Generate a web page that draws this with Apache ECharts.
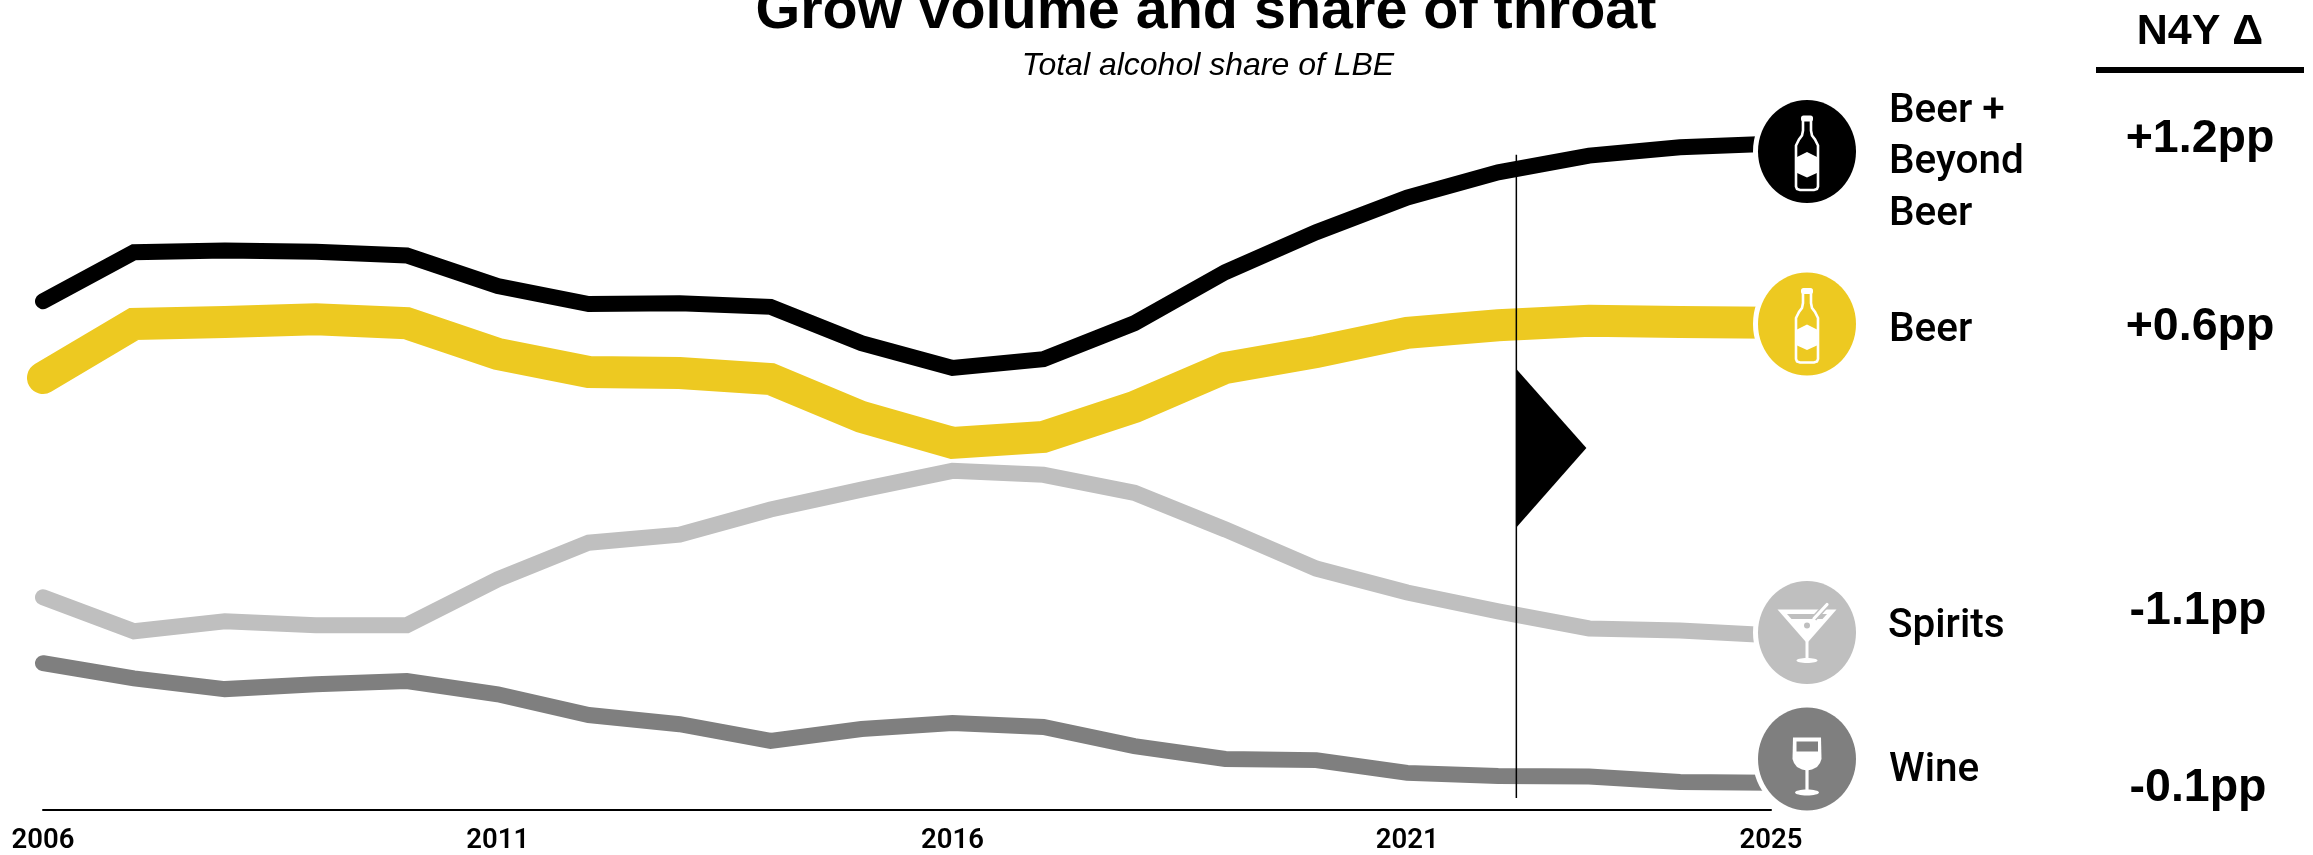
<!DOCTYPE html>
<html>
<head>
<meta charset="utf-8">
<style>html,body{margin:0;padding:0;background:#fff}#chart{width:2313px;height:855px}</style>
<script src="https://cdn.jsdelivr.net/npm/echarts@6/dist/echarts.min.js"></script>
</head>
<body>
<div id="chart"></div>
<script>
// Share of total alcohol within LBE, by segment (percentage points).
const years = [2006,2007,2008,2009,2010,2011,2012,2013,2014,2015,2016,2017,2018,2019,2020,2021,2022,2023,2024,2025];
const yearTicks = [2006,2011,2016,2021,2025];
const beerPlus = [12.75,13.98,14.02,13.99,13.90,13.13,12.68,12.70,12.61,11.70,11.08,11.30,12.20,13.48,14.48,15.35,15.98,16.40,16.61,16.70];
const beer = [10.83,12.18,12.23,12.30,12.20,11.43,10.98,10.95,10.80,9.85,9.20,9.35,10.10,11.08,11.48,11.96,12.15,12.26,12.23,12.21];
const spirits = [5.33,4.48,4.73,4.63,4.63,5.78,6.70,6.90,7.53,8.03,8.50,8.40,7.95,7.03,6.05,5.45,4.98,4.55,4.50,4.38];
const wine = [3.68,3.30,3.03,3.15,3.23,2.90,2.38,2.15,1.73,2.03,2.18,2.08,1.60,1.28,1.25,0.93,0.85,0.84,0.70,0.68];
const forecastStart = [2022.2];
const segmentNames = ['Beer + Beyond Beer','Beer','Spirits','Wine'];
const deltaLabels = ['+1.2pp','+0.6pp','-1.1pp','-0.1pp'];

const BLACK = '#000000', YELLOW = '#EDC921', LIGHT = '#BFBFBF', GREY = '#7F7F7F';
const TOP_Z = 100;
const pair = arr => arr.map((v, i) => [years[i], v]);
const lineSeries = (name, arr, color, width) => ({
  name, type: 'line', data: pair(arr), symbol: 'none', smooth: false, clip: false,
  lineStyle: { color, width, cap: 'round', join: 'miter' }, silent: true
});

// Round badge with its white ring; the pictogram children share the same centre.
function badge(cx, cy, color, children) {
  return {
    type: 'group', x: cx, y: cy,
    children: [
      { type: 'ellipse', z: TOP_Z, shape: { cx: 0, cy: 0, rx: 49, ry: 51.5 }, style: { fill: color, stroke: '#fff', lineWidth: 10 } },
      { type: 'ellipse', z: TOP_Z + 1, shape: { cx: 0, cy: 0, rx: 49, ry: 51.5 }, style: { fill: color } }
    ].concat(children.map((c, i) => Object.assign({ z: TOP_Z + 2 + i }, c)))
  };
}
const bottle = () => [
  { type: 'polygon', shape: { points: [[-4,-32],[-4,-21],[-5,-16],[-8,-12],[-11,-6],[-11,35],[-10,37.5],[-7,38.5],[7,38.5],[10,37.5],[11,35],[11,-6],[8,-12],[5,-16],[4,-21],[4,-32]] }, style: { fill: 'none', stroke: '#fff', lineWidth: 2.6 } },
  { type: 'rect', shape: { x: -6, y: -36, width: 12, height: 6, r: 2.5 }, style: { fill: '#fff' } },
  { type: 'polygon', shape: { points: [[-11,6],[0,0.5],[11,6],[11,21],[0,26],[-11,21]] }, style: { fill: '#fff' } }
];
const martini = color => [
  { type: 'polygon', shape: { points: [[-29.5,-23],[29.5,-23],[1.5,9],[-1.5,9]] }, style: { fill: '#fff' } },
  { type: 'polygon', shape: { points: [[-20,-18.5],[20,-18.5],[15.5,-13.5],[-15.5,-13.5]] }, style: { fill: color } },
  { type: 'line', shape: { x1: 7, y1: -14, x2: 20, y2: -28 }, style: { stroke: color, lineWidth: 6 } },
  { type: 'line', shape: { x1: 7, y1: -14, x2: 20, y2: -28 }, style: { stroke: '#fff', lineWidth: 3.2, lineCap: 'round' } },
  { type: 'circle', shape: { cx: 0, cy: -7, r: 3 }, style: { fill: color } },
  { type: 'line', shape: { x1: 0, y1: 7, x2: 0, y2: 28 }, style: { stroke: '#fff', lineWidth: 3 } },
  { type: 'ellipse', shape: { cx: 0, cy: 28, rx: 10.5, ry: 2.5 }, style: { fill: '#fff' } }
];
const wineGlass = color => [
  { type: 'polygon', shape: { points: [[-14,-21.5],[14,-21.5],[14.5,0],[13,4],[10,8],[5,10.5],[0,11.5],[-5,10.5],[-10,8],[-13,4],[-14.5,0]] }, style: { fill: '#fff' } },
  { type: 'rect', shape: { x: -10.5, y: -17.5, width: 21.5, height: 10 }, style: { fill: color } },
  { type: 'line', shape: { x1: 0, y1: 10, x2: 0, y2: 32 }, style: { stroke: '#fff', lineWidth: 3.2 } },
  { type: 'ellipse', shape: { cx: 0, cy: 33.5, rx: 12, ry: 3 }, style: { fill: '#fff' } }
];

const text = (x, y, str, font, align) => ({
  type: 'text', x, y, z: TOP_Z,
  style: { text: str, font, fill: '#000', textAlign: align || 'center', textVerticalAlign: 'middle' }
});
const LABEL_FONT = '500 40.5px Roboto';
const DELTA_FONT = 'bold 46.5px "Liberation Sans"';

const chart = echarts.init(document.getElementById('chart'), null, { renderer: 'canvas' });
chart.setOption({
  animation: false,
  backgroundColor: '#fff',
  grid: { left: 43, width: 1728, top: 12, height: 800, containLabel: false },
  xAxis: {
    type: 'value', min: 2006, max: 2025, splitLine: { show: false },
    axisLine: { lineStyle: { color: '#000', width: 2 } }, axisTick: { show: false },
    axisLabel: { customValues: yearTicks, formatter: v => String(v), color: '#000', fontFamily: 'Roboto', fontSize: 27.5, fontWeight: 600, margin: 17 }
  },
  yAxis: { type: 'value', min: 0, max: 20, show: false, splitLine: { show: false } },
  series: [
    lineSeries(segmentNames[0], beerPlus, BLACK, 16),
    lineSeries(segmentNames[1], beer, YELLOW, 32),
    lineSeries(segmentNames[2], spirits, LIGHT, 16),
    lineSeries(segmentNames[3], wine, GREY, 16),
    {
      // Vertical divider and the flag marking where the projection begins.
      type: 'custom', silent: true, clip: false, z: 20,
      data: forecastStart.map(x => [x]),
      encode: { x: 0 },
      renderItem(params, api) {
        const yr = api.value(0);
        const a = api.coord([yr, 16.42]), b = api.coord([yr, 0.3]);
        return { type: 'group', children: [
          { type: 'line', shape: { x1: a[0], y1: a[1], x2: b[0], y2: b[1] }, style: { stroke: '#000', lineWidth: 1.5 } },
          { type: 'polygon', shape: { points: [api.coord([yr, 11.05]), api.coord([yr + 0.77, 9.07]), api.coord([yr, 7.08])] }, style: { fill: '#000' } }
        ] };
      }
    }
  ],
  graphic: { elements: [
    text(1206, 12, 'Grow volume and share of throat', 'bold 57.5px "Liberation Sans"'),
    text(1208, 66, 'Total alcohol share of LBE', 'italic 32px "Liberation Sans"'),
    text(2200, 32, 'N4Y Δ', 'bold 43px "Liberation Sans"'),
    { type: 'rect', z: TOP_Z, shape: { x: 2096, y: 67, width: 208, height: 6 }, style: { fill: '#000' } },
    badge(1807, 151.5, BLACK, bottle()),
    badge(1807, 324, YELLOW, bottle()),
    badge(1807, 632.5, LIGHT, martini(LIGHT)),
    badge(1807, 759, GREY, wineGlass(GREY)),
    text(1889, 112, 'Beer +', LABEL_FONT, 'left'),
    text(1889, 163, 'Beyond', LABEL_FONT, 'left'),
    text(1889, 215, 'Beer', LABEL_FONT, 'left'),
    text(1889, 331, 'Beer', LABEL_FONT, 'left'),
    text(1888, 627, 'Spirits', LABEL_FONT, 'left'),
    text(1889, 771, 'Wine', LABEL_FONT, 'left'),
    text(2200, 139, deltaLabels[0], DELTA_FONT),
    text(2200, 327, deltaLabels[1], DELTA_FONT),
    text(2198, 611, deltaLabels[2], DELTA_FONT),
    text(2198, 788, deltaLabels[3], DELTA_FONT)
  ] }
});
</script>
</body>
</html>
